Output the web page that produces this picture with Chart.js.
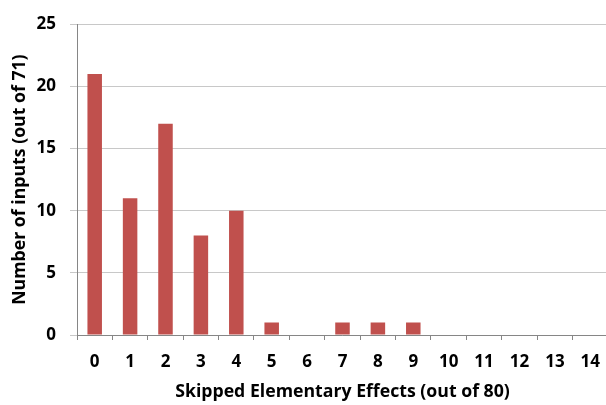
<!DOCTYPE html>
<html>
<head>
<meta charset="utf-8">
<script src="https://cdn.jsdelivr.net/npm/chart.js@4"></script>
<style>
  html, body { margin: 0; padding: 0; background: #fff; overflow: hidden; }
  #wrap { width: 612px; height: 405px; }
</style>
</head>
<body>
<div id="wrap"><canvas id="chart" width="612" height="405"></canvas></div>
<script>
// Skipped elementary effects histogram
const categories = ['0', '1', '2', '3', '4', '5', '6', '7', '8', '9', '10', '11', '12', '13', '14'];
const inputCounts = [21, 11, 17, 8, 10, 1, 0, 1, 1, 1, 0, 0, 0, 0, 0];
const yTicks = [0, 5, 10, 15, 20, 25];

const FONT = '"Open Sans", Lato, sans-serif';

new Chart(document.getElementById('chart'), {
  type: 'bar',
  data: {
    labels: categories,
    datasets: [{
      data: inputCounts,
      backgroundColor: '#C0504D',
      barPercentage: 0.41,
      categoryPercentage: 1
    }]
  },
  options: {
    responsive: false,
    animation: false,
    layout: { padding: { top: 15, right: 0, left: 0, bottom: 0 } },
    plugins: { legend: { display: false }, tooltip: { enabled: false } },
    scales: {
      x: {
        grid: { drawOnChartArea: false, drawTicks: true, tickLength: 5, color: '#868686', offset: true },
        border: { color: '#868686', width: 1 },
        ticks: { color: '#000', font: { family: FONT, size: 17, weight: 'bold' }, padding: 12, maxRotation: 0 },
        title: { display: true, text: 'Skipped Elementary Effects (out of 80)', color: '#000',
                 font: { family: FONT, size: 17.7, weight: 'bold' }, padding: { top: 0, bottom: 2 } },
        afterFit: (s) => { s.height = 70; }
      },
      y: {
        min: 0,
        max: yTicks[yTicks.length - 1],
        afterBuildTicks: (s) => { s.ticks = yTicks.map(v => ({ value: v })); },
        grid: { color: '#C8C8C8', tickLength: 7 },
        border: { color: '#868686', width: 1 },
        ticks: { color: '#000', font: { family: FONT, size: 17, weight: 'bold' }, padding: 14 },
        title: { display: true, text: 'Number of inputs (out of 71)', color: '#000',
                 font: { family: FONT, size: 17.7, weight: 'bold' }, padding: { top: 9, bottom: 0 } },
        afterFit: (s) => { s.width = 77; }
      }
    }
  }
});
</script>
</body>
</html>
